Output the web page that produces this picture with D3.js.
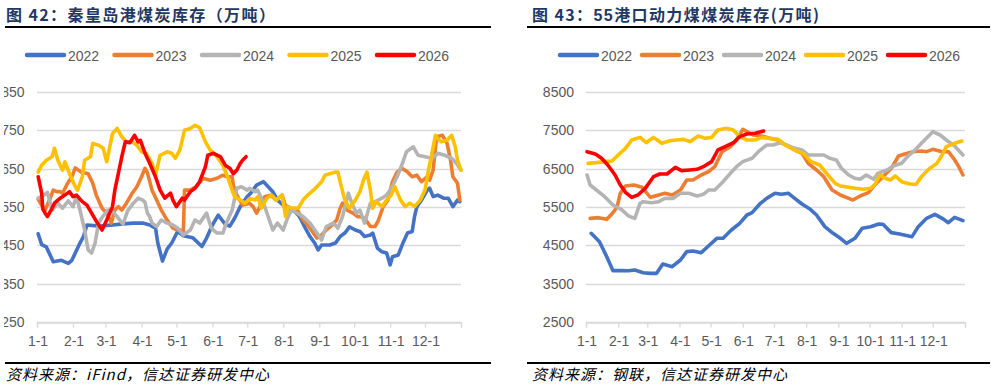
<!DOCTYPE html>
<html><head><meta charset="utf-8">
<script src="https://cdn.jsdelivr.net/npm/d3@7"></script>
<style>
html,body{margin:0;padding:0;background:#fff;}
svg{display:block;}
</style></head>
<body>
<svg id="c" width="995" height="388"></svg>
<script>
// ---------- data ----------
const years = ["2022","2023","2024","2025","2026"];
const colors = ["#4472C4","#ED7D31","#B4B4B4","#FFC000","#FF0000"];
const monthLabels = ["1-1","2-1","3-1","4-1","5-1","6-1","7-1","8-1","9-1","10-1","11-1","12-1"];
const monthStartDays = [0,31,59,90,120,151,181,212,243,273,304,334,365];

const leftTicks = [250,350,450,550,650,750,850];
const rightTicks = [2500,3500,4500,5500,6500,7500,8500];

// 秦皇岛港煤炭库存 [day of year, 万吨]
const qhd2022 = [[1,480],[4,452],[8,446],[14,407],[21,411],[27,403],[30,411],[37,456],[40,473],[43,503],[54,500],[65,503],[74,506],[83,508],[91,508],[97,503],[102,495],[104,456],[108,409],[112,440],[116,456],[121,486],[126,475],[134,470],[142,447],[146,469],[151,503],[156,529],[162,505],[166,500],[170,520],[175,551],[181,577],[185,590],[189,607],[195,616],[199,603],[203,590],[207,568],[212,555],[216,551],[222,538],[226,525],[231,495],[235,473],[239,456],[242,438],[245,451],[252,451],[257,456],[261,473],[265,482],[269,498],[274,490],[278,486],[282,473],[287,477],[289,482],[293,443],[297,433],[301,430],[304,399],[306,420],[311,425],[315,456],[319,482],[323,486],[325,525],[327,551],[331,568],[336,594],[338,599],[341,577],[345,581],[350,573],[354,573],[358,551],[362,568],[364,564]];
const qhd2023 = [[1,570],[4,555],[7,542],[11,570],[14,594],[17,590],[20,590],[22,586],[26,610],[30,629],[33,652],[38,641],[44,637],[48,612],[51,581],[56,547],[60,534],[63,516],[64,508],[67,542],[70,551],[73,542],[77,560],[82,586],[86,603],[90,629],[93,651],[95,640],[99,594],[103,568],[107,542],[112,516],[117,495],[121,490],[123,490],[126,486],[127,594],[132,594],[137,603],[143,625],[149,620],[155,625],[160,633],[164,629],[168,629],[169,607],[172,581],[177,555],[183,560],[186,551],[189,534],[192,551],[196,577],[201,581],[206,568],[211,581],[215,542],[219,542],[225,538],[229,516],[233,503],[237,486],[241,469],[245,477],[249,490],[254,503],[258,516],[261,547],[263,560],[267,542],[272,534],[276,525],[278,525],[282,521],[287,499],[291,499],[294,516],[298,551],[302,568],[306,616],[310,641],[314,651],[319,641],[323,629],[327,633],[331,616],[336,629],[338,620],[341,646],[344,733],[349,737],[353,716],[356,672],[358,629],[362,612],[364,568]];
const qhd2024 = [[1,573],[5,579],[9,588],[13,542],[18,560],[22,547],[27,566],[31,551],[34,577],[37,542],[41,490],[44,438],[47,430],[50,456],[53,508],[57,527],[61,542],[64,542],[69,525],[74,505],[78,540],[83,560],[87,573],[91,568],[93,562],[95,534],[97,525],[99,508],[103,499],[107,516],[112,508],[117,503],[121,495],[126,477],[132,490],[136,516],[140,508],[146,534],[150,495],[155,482],[160,482],[163,508],[168,542],[172,599],[176,603],[181,594],[183,599],[188,590],[190,594],[195,560],[199,525],[203,490],[207,508],[212,490],[215,516],[219,542],[224,534],[229,525],[235,508],[241,482],[245,464],[249,499],[255,508],[259,495],[263,525],[268,586],[271,560],[275,534],[278,542],[282,508],[287,560],[291,564],[297,573],[301,581],[305,599],[310,629],[314,659],[318,694],[324,707],[328,685],[334,681],[340,677],[345,690],[351,685],[357,677],[361,664],[365,646]];
const qhd2025 = [[1,641],[4,659],[8,672],[13,681],[15,703],[18,672],[22,646],[24,668],[28,637],[33,603],[35,594],[39,629],[41,672],[46,681],[48,716],[53,711],[57,703],[60,668],[65,742],[69,755],[73,733],[77,720],[82,720],[86,711],[90,694],[94,690],[99,664],[102,633],[106,685],[112,694],[116,690],[119,677],[123,699],[127,750],[132,755],[136,763],[140,757],[145,720],[149,699],[155,681],[160,659],[164,629],[168,594],[170,577],[175,568],[179,560],[183,572],[188,568],[190,577],[193,547],[198,573],[202,581],[206,568],[211,581],[214,525],[216,551],[220,547],[225,547],[229,568],[233,581],[238,594],[241,603],[245,616],[248,633],[252,637],[257,641],[259,641],[262,603],[265,568],[269,547],[274,568],[278,590],[281,620],[284,641],[287,594],[289,547],[292,564],[297,551],[301,568],[305,581],[308,603],[313,568],[317,551],[321,560],[325,551],[330,568],[334,594],[337,646],[340,690],[343,737],[345,729],[348,720],[353,724],[357,737],[360,707],[362,672],[365,646]];
const qhd2026 = [[1,629],[4,586],[5,545],[7,534],[9,525],[13,547],[15,560],[20,573],[24,581],[28,590],[31,577],[34,581],[39,564],[43,555],[47,534],[52,508],[56,490],[60,516],[65,551],[67,594],[70,637],[73,681],[76,720],[80,718],[84,737],[87,720],[89,724],[93,690],[97,664],[102,629],[106,594],[110,573],[115,586],[117,568],[120,551],[125,573],[127,568],[132,590],[136,599],[140,616],[145,655],[147,685],[152,690],[158,681],[162,659],[166,651],[169,637],[172,646],[175,664],[177,672],[180,681]];

// 55港口动力煤煤炭库存 [day of year, 万吨]
const p55_2022 = [[5,4814],[13,4595],[20,4204],[26,3839],[34,3839],[41,3835],[47,3856],[55,3786],[62,3769],[68,3769],[74,4013],[83,3943],[91,4117],[97,4335],[103,4352],[111,4308],[119,4509],[126,4683],[132,4683],[140,4900],[148,5074],[155,5291],[160,5352],[168,5596],[174,5726],[182,5857],[188,5831],[195,5857],[201,5726],[208,5578],[216,5439],[222,5291],[230,4987],[238,4814],[245,4683],[251,4553],[259,4683],[266,4944],[274,4987],[282,5057],[286,5048],[294,4831],[302,4796],[314,4726],[320,4987],[328,5204],[336,5309],[343,5204],[349,5091],[355,5230],[363,5143]];
const p55_2023 = [[4,5204],[12,5222],[20,5178],[26,5352],[30,5509],[33,5857],[38,6048],[46,6074],[54,6013],[62,5752],[70,5813],[76,5857],[83,5813],[91,5943],[97,6204],[103,6204],[111,6335],[118,6422],[124,6552],[131,6943],[139,7074],[145,7248],[151,7526],[158,7422],[161,7378],[169,7352],[177,7291],[185,7248],[192,7117],[201,6987],[208,6900],[214,6639],[222,6465],[229,6291],[237,5943],[245,5813],[253,5726],[257,5683],[264,5787],[272,5874],[278,6074],[286,6291],[294,6509],[301,6830],[307,6883],[315,6943],[323,6961],[328,6943],[334,7004],[343,6943],[349,6943],[354,6770],[359,6552],[363,6335]];
const p55_2024 = [[1,6335],[4,6074],[10,5943],[18,5770],[26,5552],[34,5439],[41,5265],[47,5204],[52,5596],[55,5639],[63,5613],[70,5639],[76,5726],[84,5726],[91,5857],[99,5857],[107,5787],[113,5831],[118,5943],[124,5943],[132,6161],[139,6378],[145,6552],[151,6683],[160,6770],[166,6943],[174,7117],[180,7117],[187,7178],[193,7117],[201,7030],[208,6987],[214,6857],[221,6857],[229,6857],[235,6770],[241,6726],[246,6509],[253,6335],[259,6248],[264,6222],[270,6335],[277,6222],[281,6378],[290,6465],[296,6570],[304,6639],[310,6830],[317,6987],[323,7161],[330,7352],[334,7465],[341,7378],[347,7248],[355,7091],[363,6857]];
const p55_2025 = [[2,6639],[10,6657],[18,6683],[25,6700],[31,6857],[38,7030],[44,7248],[52,7317],[58,7178],[65,7317],[73,7161],[81,7230],[87,7248],[94,7265],[100,7204],[108,7352],[115,7291],[121,7317],[127,7509],[135,7552],[142,7509],[148,7335],[155,7248],[163,7248],[169,7317],[177,7291],[185,7265],[192,7117],[201,6987],[209,6900],[217,6683],[225,6596],[233,6335],[240,6117],[245,6048],[253,6013],[259,5987],[267,5961],[274,5987],[278,6074],[283,6335],[288,6248],[293,6204],[298,6309],[304,6161],[312,6100],[318,6091],[323,6291],[330,6483],[338,6639],[343,6857],[347,7074],[355,7161],[362,7222]];
const p55_2026 = [[1,6943],[9,6883],[15,6770],[21,6596],[28,6335],[33,6074],[38,5883],[44,5752],[50,5813],[57,5987],[65,6291],[71,6361],[78,6361],[86,6535],[92,6448],[100,6465],[107,6483],[113,6552],[121,6683],[127,6987],[134,7074],[142,7178],[148,7335],[155,7404],[163,7422],[171,7483]];

// ---------- drawing ----------
const svg = d3.select("#c");
svg.append("rect").attr("width",995).attr("height",388).attr("fill","#fff");

const labelFont = "'Liberation Sans', Arial, sans-serif";
const cjkFont = "'Noto Sans CJK SC', sans-serif";
const axisColor = "#595959";
const gridColor = "#D9D9D9";

svg.append("defs").append("clipPath").attr("id","leftclip")
  .append("rect").attr("x",4).attr("y",0).attr("width",500).attr("height",388);

function panel(cfg) {
  const g = svg.append("g");
  // title
  const t = g.append("text").attr("x", cfg.titleX).attr("y", 21)
    .attr("font-family", cjkFont).attr("font-size", 16).attr("font-weight", 700)
    .attr("letter-spacing", 1.4).attr("fill", "#1F3864");
  cfg.title.forEach(p => {
    const ts = t.append("tspan").text(p.text);
    if (p.latin) ts.attr("font-family", labelFont);
  });
  g.append("line").attr("x1", cfg.ruleX1).attr("x2", cfg.ruleX2).attr("y1", 27).attr("y2", 27)
    .attr("stroke", "#000").attr("stroke-width", 2);
  g.append("line").attr("x1", cfg.ruleX1).attr("x2", cfg.ruleX2).attr("y1", 363).attr("y2", 363)
    .attr("stroke", "#000").attr("stroke-width", 2);
  g.append("text").attr("x", cfg.titleX).attr("y", 380)
    .attr("font-family", cjkFont).attr("font-size", 15).attr("font-style", "italic")
    .attr("letter-spacing", 1).attr("fill", "#000").text(cfg.source);

  // legend
  years.forEach((yr, i) => {
    const lx = cfg.legendX + i * cfg.legendStep;
    g.append("line").attr("x1", lx + 2).attr("x2", lx + 39).attr("y1", 55).attr("y2", 55)
      .attr("stroke", colors[i]).attr("stroke-width", 4.5).attr("stroke-linecap", "round");
    g.append("text").attr("x", lx + 43).attr("y", 60.5).attr("font-family", labelFont)
      .attr("font-size", 14).attr("fill", axisColor).text(yr);
  });

  const x = d3.scaleLinear().domain([0, 365]).range([cfg.x0, cfg.x1]);
  const y = d3.scaleLinear().domain([cfg.ticks[0], cfg.ticks[cfg.ticks.length - 1]]).range([322, 92]);

  // grid
  g.append("g").selectAll("line").data(cfg.ticks).join("line")
    .attr("x1", cfg.x0).attr("x2", cfg.x1)
    .attr("y1", d => Math.round(y(d)) + 0.5).attr("y2", d => Math.round(y(d)) + 0.5)
    .attr("stroke", gridColor).attr("stroke-width", 1.3);

  // y labels
  const yl = g.append("g");
  if (cfg.clip) yl.attr("clip-path", "url(#leftclip)");
  yl.selectAll("text").data(cfg.ticks).join("text")
    .attr("x", cfg.yLabelX).attr("y", d => y(d) + 5)
    .attr("text-anchor", "end").attr("font-family", labelFont).attr("font-size", 14)
    .attr("fill", axisColor).text(d => d);

  // x axis ticks
  const xa = d3.axisBottom(x).tickValues(monthStartDays).tickSize(5).tickFormat("");
  const ax = g.append("g").attr("transform", "translate(0,322.5)").call(xa);
  ax.select(".domain").attr("stroke", gridColor).attr("stroke-width", 1.3);
  ax.selectAll(".tick line").attr("stroke", gridColor).attr("stroke-width", 1.3);
  g.append("g").selectAll("text").data(monthLabels).join("text")
    .attr("x", (d, i) => x(monthStartDays[i]) + 1).attr("y", 346)
    .attr("text-anchor", "middle").attr("font-family", labelFont).attr("font-size", 14)
    .attr("fill", axisColor).text(d => d);

  const line = d3.line().x(d => x(d[0])).y(d => y(d[1]));
  cfg.series.forEach((s, i) => {
    g.append("path").datum(s).attr("d", line).attr("fill", "none")
      .attr("stroke", colors[i]).attr("stroke-width", cfg.lw)
      .attr("stroke-linejoin", "round").attr("stroke-linecap", "round");
  });
}

panel({
  title: [{text: "图 42：秦皇岛港煤炭库存（万吨）"}],
  titleX: 6, ruleX1: 5, ruleX2: 491,
  source: "资料来源：iFind，信达证券研发中心",
  legendX: 25, legendStep: 87.5,
  x0: 37, x1: 461, ticks: leftTicks, yLabelX: 24.5, clip: true, lw: 3.6,
  series: [qhd2022, qhd2023, qhd2024, qhd2025, qhd2026]
});
panel({
  title: [{text: "图 43："}, {text: "55", latin: true}, {text: "港口动力煤煤炭库存(万吨)"}],
  titleX: 532, ruleX1: 527, ruleX2: 990,
  source: "资料来源：钢联，信达证券研发中心",
  legendX: 558, legendStep: 82,
  x0: 586, x1: 965, ticks: rightTicks, yLabelX: 574, clip: false, lw: 3.6,
  series: [p55_2022, p55_2023, p55_2024, p55_2025, p55_2026]
});
</script>
</body></html>
